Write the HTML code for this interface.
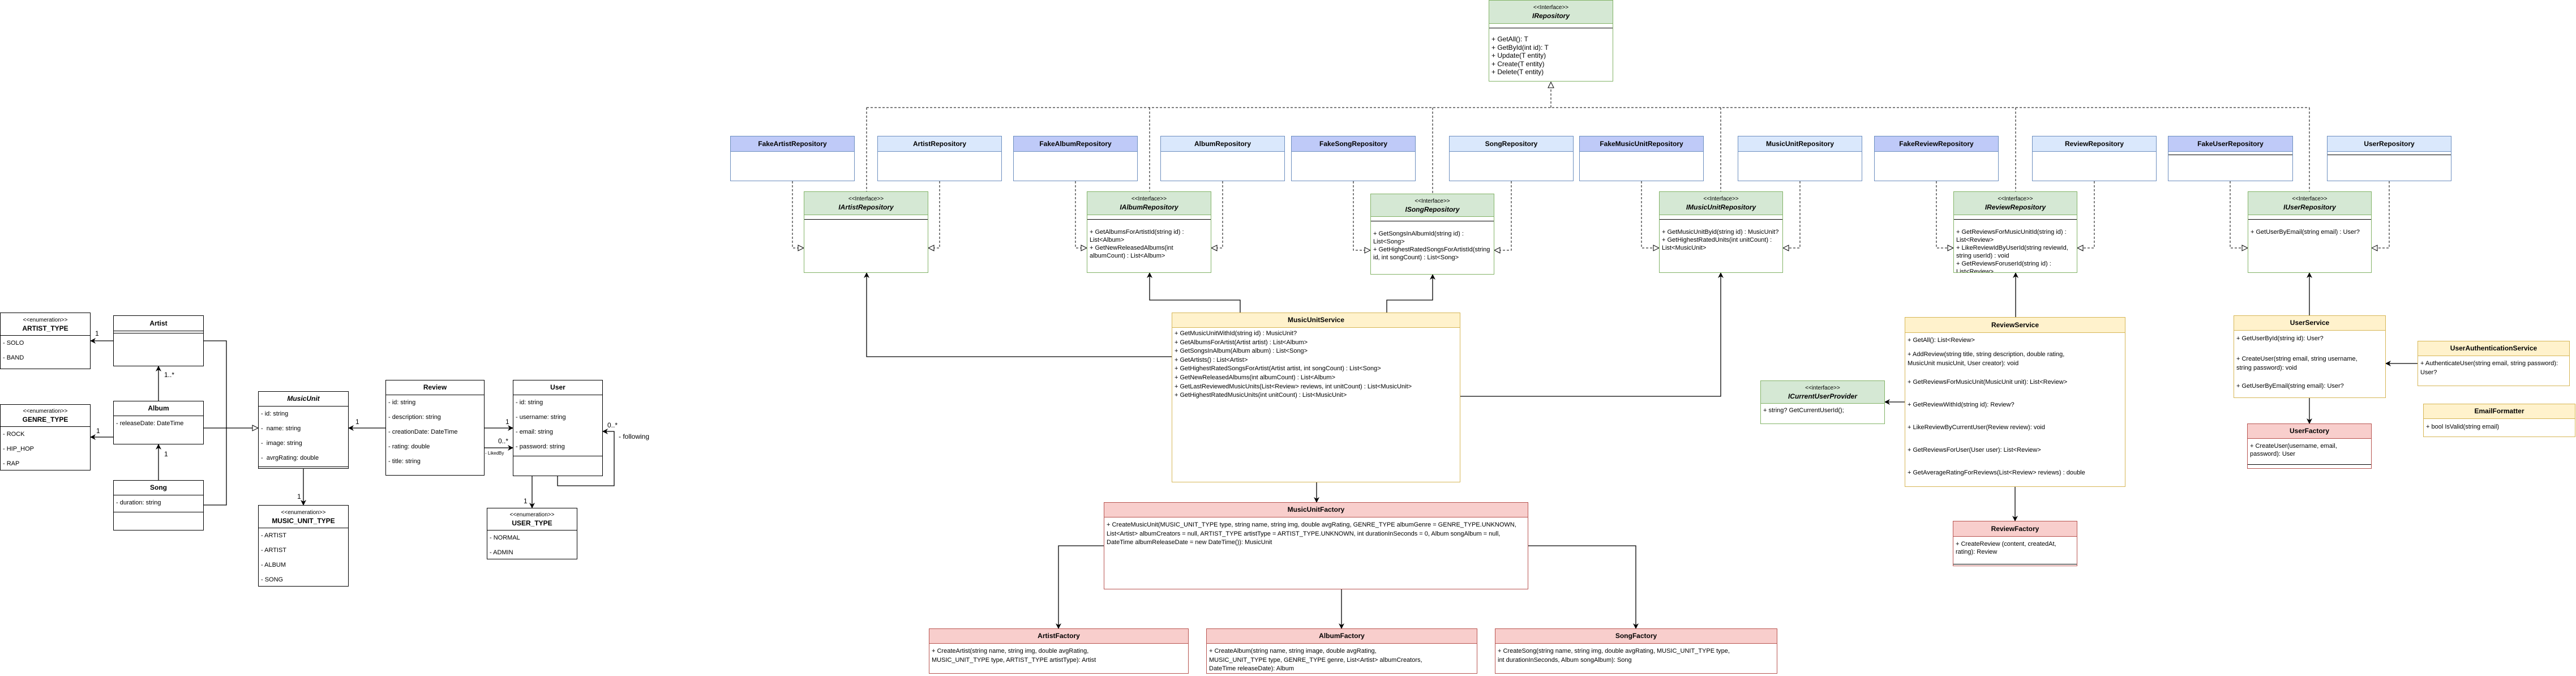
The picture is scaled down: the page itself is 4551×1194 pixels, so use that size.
<!DOCTYPE html>
<html><head><meta charset="utf-8">
<style>
html,body{margin:0;padding:0;background:#fff}
body{width:4551px;height:1194px;position:relative;overflow:hidden;font-family:"Liberation Sans",sans-serif}
.b{position:absolute;box-sizing:border-box;border:1px solid #000;background:#fff;font-size:11px;color:#000;overflow:hidden}
.h{box-sizing:border-box;border-bottom:1px solid #000;text-align:center;font-weight:bold;font-size:12px;display:flex;flex-direction:column;justify-content:center;line-height:15px}
.st{font-weight:normal;font-size:10px}
.r{height:26px;line-height:26px;padding-left:4px;white-space:nowrap}
.m{padding:3px 4px;line-height:14px}
.sep{border-top:1px solid #000}
.fk{border-color:#6c8ebf}.fk .h{background:#bfcaf8;border-color:#6c8ebf}
.rl{border-color:#6c8ebf}.rl .h{background:#dae8fc;border-color:#6c8ebf}
.it{border-color:#82b366}.it .h{background:#d5e8d4;border-color:#82b366}
.it .h b{font-style:italic}
.it .m{border-top:1px solid #000;margin-top:7px}
.sv{border-color:#d6b656}.sv .h{background:#fff2cc;border-color:#d6b656}
.fc{border-color:#b85450}.fc .h{background:#f8cecc;border-color:#b85450}
.lb{position:absolute;font-size:12px;white-space:nowrap}
svg{position:absolute;left:0;top:0}
</style></head><body>
<svg width="4551" height="1194" viewBox="0 0 4551 1194">
<defs>
<marker id="a" markerWidth="10" markerHeight="10" refX="9" refY="5" orient="auto" markerUnits="userSpaceOnUse"><path d="M0,0 L10,5 L0,10 L3,5 z" fill="#000"/></marker>
<marker id="t" markerWidth="12" markerHeight="12" refX="11" refY="6" orient="auto" markerUnits="userSpaceOnUse"><path d="M1,1 L11,6 L1,11 z" fill="#fff" stroke="#000"/></marker>
</defs>
<g fill="none" stroke="#000" stroke-width="1.3">
<!-- domain -->
<path d="M200,602 H160" marker-end="url(#a)"/>
<path d="M280,708 V647" marker-end="url(#a)"/>
<path d="M200,772 H160" marker-end="url(#a)"/>
<path d="M280,848 V785" marker-end="url(#a)"/>
<path d="M360,602 H400 V892 H360"/>
<path d="M360,756 H456" marker-end="url(#t)"/>
<path d="M536,828 V892" marker-end="url(#a)"/>
<path d="M681,756 H616" marker-end="url(#a)"/>
<path d="M856,756 H906" marker-end="url(#a)"/>
<path d="M856,791 H906" marker-end="url(#a)"/>
<path d="M985,841 V858 H1085 V762 H1065" marker-end="url(#a)"/>
<path d="M940,841 V897" marker-end="url(#a)"/>
<!-- services -->
<path d="M2070,630 H1531 V482" marker-end="url(#a)"/>
<path d="M2191,552 V530 H2031 V482" marker-end="url(#a)"/>
<path d="M2450,552 V530 H2531 V485" marker-end="url(#a)"/>
<path d="M2580,700 H3040 V482" marker-end="url(#a)"/>
<path d="M2326,852 V887" marker-end="url(#a)"/>
<path d="M1950,964 H1870 V1110" marker-end="url(#a)"/>
<path d="M2370,1041 V1110" marker-end="url(#a)"/>
<path d="M2700,964 H2890 V1110" marker-end="url(#a)"/>
<path d="M3561,560 V482" marker-end="url(#a)"/>
<path d="M3365,710 H3330" marker-end="url(#a)"/>
<path d="M3560,860 V920" marker-end="url(#a)"/>
<path d="M4080,557 V482" marker-end="url(#a)"/>
<path d="M4080,703 V748" marker-end="url(#a)"/>
<path d="M4271,642 H4215" marker-end="url(#a)"/>
</g>
<g fill="none" stroke="#000" stroke-width="1" stroke-dasharray="4,3">
<path d="M1531,190 H4080"/>
<path d="M1531,190 V338 M2031,190 V338 M2531,190 V342 M3040,190 V338 M3561,190 V338 M4080,190 V338"/>
<path d="M2740,190 V145" marker-end="url(#t)"/>
<path d="M1400,320 V438 H1420" marker-end="url(#t)"/>
<path d="M1660,320 V438 H1640" marker-end="url(#t)"/>
<path d="M1900,320 V438 H1920" marker-end="url(#t)"/>
<path d="M2160,320 V438 H2140" marker-end="url(#t)"/>
<path d="M2391,320 V442 H2421" marker-end="url(#t)"/>
<path d="M2670,320 V442 H2640" marker-end="url(#t)"/>
<path d="M2900,320 V438 H2931" marker-end="url(#t)"/>
<path d="M3180,320 V438 H3150" marker-end="url(#t)"/>
<path d="M3421,320 V438 H3451" marker-end="url(#t)"/>
<path d="M3700,320 V438 H3670" marker-end="url(#t)"/>
<path d="M3940,320 V438 H3971" marker-end="url(#t)"/>
<path d="M4221,320 V438 H4190" marker-end="url(#t)"/>
</g>
</svg>

<!-- labels -->
<div class="lb" style="left:168px;top:582px">1</div>
<div class="lb" style="left:290px;top:655px">1..*</div>
<div class="lb" style="left:170px;top:754px">1</div>
<div class="lb" style="left:290px;top:795px">1</div>
<div class="lb" style="left:525px;top:870px">1</div>
<div class="lb" style="left:628px;top:738px">1</div>
<div class="lb" style="left:893px;top:738px">1</div>
<div class="lb" style="left:880px;top:772px">0..*</div>
<div class="lb" style="left:857px;top:796px;font-size:8px">- LikedBy</div>
<div class="lb" style="left:1073px;top:744px">0..*</div>
<div class="lb" style="left:1093px;top:764px">- following</div>
<div class="lb" style="left:925px;top:878px">1</div>

<!-- domain classes -->
<div class="b" style="left:0;top:552px;width:160px;height:100px"><div class="h" style="height:40px"><span class="st">&lt;&lt;enumeration&gt;&gt;</span><b>ARTIST_TYPE</b></div><div class="r">- SOLO</div><div class="r">- BAND</div></div>
<div class="b" style="left:200px;top:557px;width:160px;height:90px"><div class="h" style="height:27px">Artist</div><div style="height:3px;border-bottom:1px solid #000"></div></div>
<div class="b" style="left:0;top:714px;width:160px;height:117px"><div class="h" style="height:39px"><span class="st">&lt;&lt;enumeration&gt;&gt;</span><b>GENRE_TYPE</b></div><div class="r">- ROCK</div><div class="r">- HIP_HOP</div><div class="r">- RAP</div></div>
<div class="b" style="left:200px;top:708px;width:160px;height:77px"><div class="h" style="height:26px">Album</div><div class="r">- releaseDate: DateTime</div></div>
<div class="b" style="left:200px;top:848px;width:160px;height:89px"><div class="h" style="height:26px">Song</div><div class="r" style="height:29px;line-height:26px;border-bottom:1px solid #000">- duration: string</div></div>
<div class="b" style="left:456px;top:691px;width:160px;height:137px"><div class="h" style="height:26px;font-style:italic">MusicUnit</div><div class="r">- id: string</div><div class="r">-&nbsp; name: string</div><div class="r">-&nbsp; image: string</div><div class="r" style="border-bottom:1px solid #000;height:28px">-&nbsp; avrgRating: double</div></div>
<div class="b" style="left:456px;top:892px;width:160px;height:144px"><div class="h" style="height:40px"><span class="st">&lt;&lt;enumeration&gt;&gt;</span><b>MUSIC_UNIT_TYPE</b></div><div class="r">- ARTIST</div><div class="r">- ARTIST</div><div class="r">- ALBUM</div><div class="r">- SONG</div></div>
<div class="b" style="left:681px;top:671px;width:175px;height:169px"><div class="h" style="height:26px">Review</div><div class="r">- id: string</div><div class="r">- description: string</div><div class="r">- creationDate: DateTime</div><div class="r">- rating: double</div><div class="r">- title: string</div></div>
<div class="b" style="left:906px;top:671px;width:159px;height:170px"><div class="h" style="height:26px">User</div><div class="r">- id: string</div><div class="r">- username: string</div><div class="r">- email: string</div><div class="r" style="border-bottom:1px solid #000;height:29px">- password: string</div></div>
<div class="b" style="left:860px;top:897px;width:160px;height:91px"><div class="h" style="height:39px"><span class="st">&lt;&lt;enumeration&gt;&gt;</span><b>USER_TYPE</b></div><div class="r">- NORMAL</div><div class="r">- ADMIN</div></div>

<!-- IRepository -->
<div class="b it" style="left:2630px;top:0;width:220px;height:144px"><div class="h" style="height:41px"><span class="st">&lt;&lt;Interface&gt;&gt;</span><b>IRepository</b></div><div class="m" style="padding-top:12px;font-size:12px;line-height:14.5px">+ GetAll(): T<br>+ GetById(int id): T<br>+ Update(T entity)<br>+ Create(T entity)<br>+ Delete(T entity)</div></div>

<!-- repositories -->
<div class="b fk" style="left:1290px;top:240px;width:220px;height:80px"><div class="h" style="height:27px">FakeArtistRepository</div></div>
<div class="b rl" style="left:1550px;top:240px;width:220px;height:80px"><div class="h" style="height:27px">ArtistRepository</div></div>
<div class="b fk" style="left:1790px;top:240px;width:220px;height:80px"><div class="h" style="height:27px">FakeAlbumRepository</div></div>
<div class="b rl" style="left:2050px;top:240px;width:220px;height:80px"><div class="h" style="height:27px">AlbumRepository</div></div>
<div class="b fk" style="left:2281px;top:240px;width:220px;height:80px"><div class="h" style="height:27px">FakeSongRepository</div></div>
<div class="b rl" style="left:2560px;top:240px;width:220px;height:80px"><div class="h" style="height:27px">SongRepository</div></div>
<div class="b fk" style="left:2790px;top:240px;width:220px;height:80px"><div class="h" style="height:27px">FakeMusicUnitRepository</div></div>
<div class="b rl" style="left:3070px;top:240px;width:220px;height:80px"><div class="h" style="height:27px">MusicUnitRepository</div></div>
<div class="b fk" style="left:3311px;top:240px;width:220px;height:80px"><div class="h" style="height:27px">FakeReviewRepository</div></div>
<div class="b rl" style="left:3590px;top:240px;width:220px;height:80px"><div class="h" style="height:27px">ReviewRepository</div></div>
<div class="b fk" style="left:3830px;top:240px;width:221px;height:80px"><div class="h" style="height:27px">FakeUserRepository</div><div style="height:5px;border-bottom:1px solid #000"></div></div>
<div class="b rl" style="left:4111px;top:240px;width:220px;height:80px"><div class="h" style="height:27px">UserRepository</div><div style="height:5px;border-bottom:1px solid #000"></div></div>

<!-- interfaces -->
<div class="b it" style="left:1420px;top:338px;width:220px;height:144px"><div class="h" style="height:41px"><span class="st">&lt;&lt;Interface&gt;&gt;</span><b>IArtistRepository</b></div><div class="m"></div></div>
<div class="b it" style="left:1920px;top:338px;width:220px;height:144px"><div class="h" style="height:41px"><span class="st">&lt;&lt;Interface&gt;&gt;</span><b>IAlbumRepository</b></div><div class="m" style="padding-top:15px">+ GetAlbumsForArtistId(string id) : List&lt;Album&gt;<br>+ GetNewReleasedAlbums(int albumCount) : List&lt;Album&gt;</div></div>
<div class="b it" style="left:2421px;top:342px;width:219px;height:143px"><div class="h" style="height:40px"><span class="st">&lt;&lt;Interface&gt;&gt;</span><b>ISongRepository</b></div><div class="m" style="padding-top:15px">+ GetSongsInAlbumId(string id) : List&lt;Song&gt;<br>+ GetHighestRatedSongsForArtistId(string id, int songCount) : List&lt;Song&gt;</div></div>
<div class="b it" style="left:2931px;top:338px;width:219px;height:144px"><div class="h" style="height:41px"><span class="st">&lt;&lt;Interface&gt;&gt;</span><b>IMusicUnitRepository</b></div><div class="m" style="padding-top:15px">+ GetMusicUnitByid(string id) : MusicUnit?<br>+ GetHighestRatedUnits(int unitCount) : List&lt;MusicUnit&gt;</div></div>
<div class="b it" style="left:3451px;top:338px;width:219px;height:144px"><div class="h" style="height:41px"><span class="st">&lt;&lt;Interface&gt;&gt;</span><b>IReviewRepository</b></div><div class="m" style="padding-top:15px">+ GetReviewsForMusicUnitId(string id) : List&lt;Review&gt;<br>+ LikeReviewIdByUserId(string reviewId, string userId) : void<br>+ GetReviewsForuserId(string id) : List&lt;Review&gt;</div></div>
<div class="b it" style="left:3971px;top:338px;width:219px;height:144px"><div class="h" style="height:41px"><span class="st">&lt;&lt;Interface&gt;&gt;</span><b>IUserRepository</b></div><div class="m" style="padding-top:15px">+ GetUserByEmail(string email) : User?</div></div>

<!-- services -->
<div class="b sv" style="left:2070px;top:552px;width:510px;height:300px"><div class="h" style="height:26px">MusicUnitService</div><div class="m" style="line-height:15.6px;padding-top:3px">+ GetMusicUnitWithId(string id) : MusicUnit?<br>+ GetAlbumsForArtist(Artist artist) : List&lt;Album&gt;<br>+ GetSongsInAlbum(Album album) : List&lt;Song&gt;<br>+ GetArtists() : List&lt;Artist&gt;<br>+ GetHighestRatedSongsForArtist(Artist artist, int songCount) : List&lt;Song&gt;<br>+ GetNewReleasedAlbums(int albumCount) : List&lt;Album&gt;<br>+ GetLastReviewedMusicUnits(List&lt;Review&gt; reviews, int unitCount) : List&lt;MusicUnit&gt;<br>+ GetHighestRatedMusicUnits(int unitCount) : List&lt;MusicUnit&gt;</div></div>

<div class="b it" style="left:3110px;top:672px;width:220px;height:77px"><div class="h" style="height:40px"><span class="st">&lt;&lt;interface&gt;&gt;</span><b>ICurrentUserProvider</b></div><div style="padding:6px 4px">+ string? GetCurrentUserId();</div></div>

<div class="b sv" style="left:3365px;top:560px;width:390px;height:300px"><div class="h" style="height:27px">ReviewService</div>
<div class="lb" style="left:4px;top:34px;font-size:11px">+ GetAll(): List&lt;Review&gt;</div>
<div class="lb" style="left:4px;top:57px;font-size:11px;line-height:16px">+ AddReview(string title, string description, double rating,<br>MusicUnit musicUnit, User creator): void</div>
<div class="lb" style="left:4px;top:108px;font-size:11px">+ GetReviewsForMusicUnit(MusicUnit unit): List&lt;Review&gt;</div>
<div class="lb" style="left:4px;top:148px;font-size:11px">+ GetReviewWithId(string id): Review?</div>
<div class="lb" style="left:4px;top:188px;font-size:11px">+ LikeReviewByCurrentUser(Review review): void</div>
<div class="lb" style="left:4px;top:228px;font-size:11px">+ GetReviewsForUser(User user): List&lt;Review&gt;</div>
<div class="lb" style="left:4px;top:268px;font-size:11px">+ GetAverageRatingForReviews(List&lt;Review&gt; reviews) : double</div>
</div>

<div class="b sv" style="left:3946px;top:557px;width:269px;height:146px"><div class="h" style="height:26px">UserService</div>
<div class="lb" style="left:4px;top:34px;font-size:11px">+ GetUserById(string id): User?</div>
<div class="lb" style="left:4px;top:68px;font-size:11px;line-height:16px">+ CreateUser(string email, string username,<br>string password): void</div>
<div class="lb" style="left:4px;top:118px;font-size:11px">+ GetUserByEmail(string email): User?</div>
</div>

<div class="b sv" style="left:4271px;top:602px;width:269px;height:80px"><div class="h" style="height:26px">UserAuthenticationService</div><div class="m" style="line-height:16px;padding-top:5px">+ AuthenticateUser(string email, string password): User?</div></div>
<div class="b sv" style="left:4281px;top:713px;width:269px;height:59px"><div class="h" style="height:26px">EmailFormatter</div><div class="m" style="padding-top:7px">+ bool IsValid(string email)</div></div>

<!-- factories -->
<div class="b fc" style="left:1950px;top:887px;width:750px;height:154px"><div class="h" style="height:26px">MusicUnitFactory</div><div class="m" style="line-height:15.5px;padding-top:6px">+ CreateMusicUnit(MUSIC_UNIT_TYPE type, string name, string img, double avgRating, GENRE_TYPE albumGenre = GENRE_TYPE.UNKNOWN, List&lt;Artist&gt; albumCreators = null, ARTIST_TYPE artistType = ARTIST_TYPE.UNKNOWN, int durationInSeconds = 0, Album songAlbum = null, DateTime albumReleaseDate = new DateTime()): MusicUnit</div></div>
<div class="b fc" style="left:1641px;top:1110px;width:459px;height:80px"><div class="h" style="height:26px">ArtistFactory</div><div class="m" style="line-height:15.5px;padding-top:6px">+ CreateArtist(string name, string img, double avgRating,<br>MUSIC_UNIT_TYPE type, ARTIST_TYPE artistType): Artist</div></div>
<div class="b fc" style="left:2131px;top:1110px;width:479px;height:80px"><div class="h" style="height:26px">AlbumFactory</div><div class="m" style="line-height:15.5px;padding-top:6px">+ CreateAlbum(string name, string image, double avgRating,<br>MUSIC_UNIT_TYPE type, GENRE_TYPE genre, List&lt;Artist&gt; albumCreators,<br>DateTime releaseDate): Album</div></div>
<div class="b fc" style="left:2641px;top:1110px;width:499px;height:80px"><div class="h" style="height:26px">SongFactory</div><div class="m" style="line-height:15.5px;padding-top:6px">+ CreateSong(string name, string img, double avgRating, MUSIC_UNIT_TYPE type,<br>int durationInSeconds, Album songAlbum): Song</div></div>
<div class="b fc" style="left:3970px;top:748px;width:220px;height:80px"><div class="h" style="height:26px">UserFactory</div><div class="m" style="height:46px;box-sizing:border-box;border-bottom:1px solid #000;padding-top:6px">+ CreateUser(username, email, password): User</div></div>
<div class="b fc" style="left:3450px;top:920px;width:220px;height:80px"><div class="h" style="height:27px">ReviewFactory</div><div class="m" style="height:49px;box-sizing:border-box;border-bottom:1px solid #000;padding-top:6px">+ CreateReview (content, createdAt, rating): Review</div></div>
</body></html>
